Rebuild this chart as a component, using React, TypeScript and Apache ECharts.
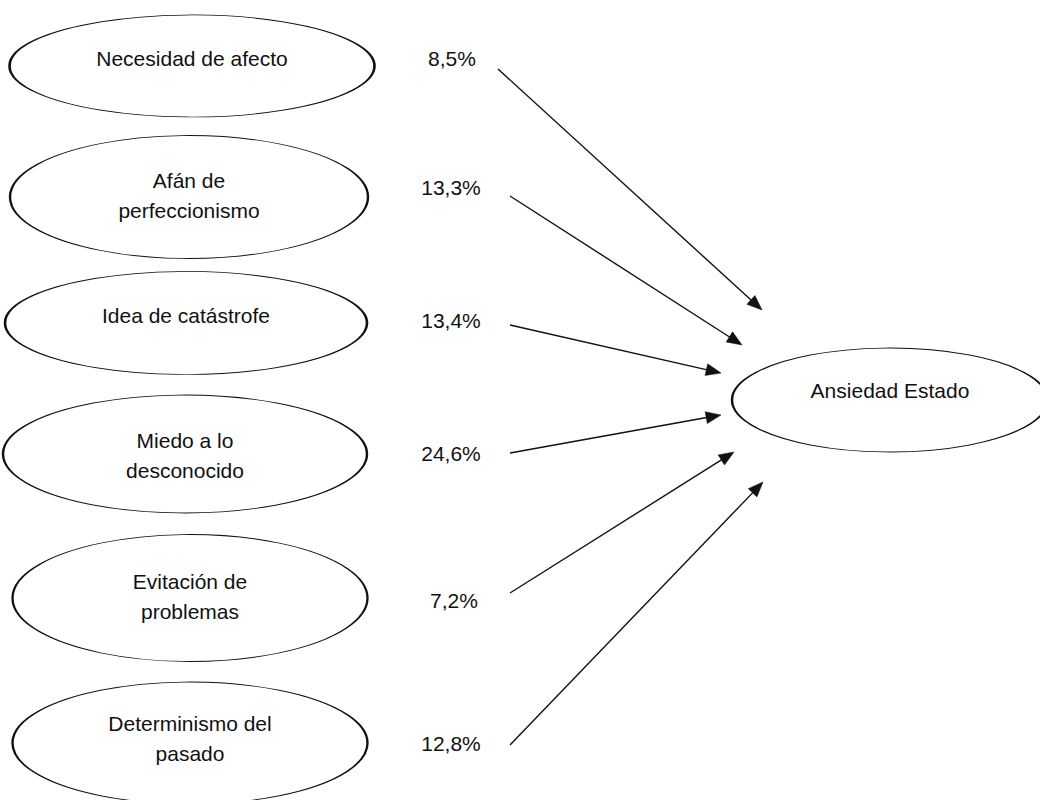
import React, { useEffect, useRef } from "react";
import * as echarts from "echarts";

// ---- data ----
const factors = [
  "Necesidad de afecto",
  "Afán de\nperfeccionismo",
  "Idea de catástrofe",
  "Miedo a lo\ndesconocido",
  "Evitación de\nproblemas",
  "Determinismo del\npasado",
];
const percentages = [8.5, 13.3, 13.4, 24.6, 7.2, 12.8];
const outcome = "Ansiedad Estado";

// ---- layout (diagram coordinates, in a 1040 x 800 space) ----
const factorCenters = [
  [192, 66],
  [189, 197],
  [186, 323],
  [185, 454],
  [190, 598],
  [190, 743],
];
const factorSizes = [
  [365, 102],
  [358, 123],
  [362, 103],
  [364, 118],
  [355, 127],
  [355, 122],
];
const factorLabelOffsets = [-8, -2, -8, 1, -2, -5];
const pctLabelPos = [
  [452, 58],
  [451, 187],
  [451, 320],
  [451, 453],
  [454, 600],
  [451, 743],
];
const arrowStarts = [
  [498, 69],
  [510, 196],
  [510, 325],
  [510, 453],
  [510, 593],
  [510, 745],
];
const arrowEnds = [
  [762, 310],
  [742, 345],
  [721, 373],
  [721, 415],
  [734, 452],
  [763, 482],
];
const outcomeCenter = [890, 400];
const outcomeSize = [316, 104];
const outcomeLabelOffset = -10;

const FONT = "'Liberation Sans', Arial, sans-serif";
const TEXT_COLOR = "#111111";
const LINE_COLOR = "#111111";

export default function App() {
  const ref = useRef<HTMLDivElement>(null);

  useEffect(() => {
    if (!ref.current) return;
    const chart = echarts.init(ref.current, undefined, { renderer: "svg" });

    const ellipseData: any[] = factors.map((name, i) => ({
      name,
      value: factorCenters[i],
      symbolSize: factorSizes[i],
      label: { offset: [0, factorLabelOffsets[i]] },
    }));
    ellipseData.push({
      name: outcome,
      value: outcomeCenter,
      symbolSize: outcomeSize,
      label: { offset: [0, outcomeLabelOffset] },
    });

    const pctData = percentages.map((p, i) => [pctLabelPos[i][0], pctLabelPos[i][1], p]);

    const arrowData = arrowStarts.map((s, i) => [s[0], s[1], arrowEnds[i][0], arrowEnds[i][1]]);

    chart.setOption({
      animation: false,
      backgroundColor: "#ffffff",
      grid: { left: 0, right: 0, top: 0, bottom: 0 },
      xAxis: { type: "value", min: 0, max: 1040, show: false },
      yAxis: { type: "value", min: 0, max: 800, inverse: true, show: false },
      series: [
        {
          type: "scatter",
          silent: true,
          clip: false,
          symbol: "circle",
          data: ellipseData,
          itemStyle: { color: "#ffffff", borderColor: LINE_COLOR, borderWidth: 1.4, opacity: 1 },
          label: {
            show: true,
            position: "inside",
            formatter: (p: any) => p.name,
            fontSize: 21,
            fontFamily: FONT,
            color: TEXT_COLOR,
            lineHeight: 30,
            align: "center",
          },
          emphasis: { disabled: true },
          z: 2,
        },
        {
          type: "scatter",
          silent: true,
          clip: false,
          symbol: "circle",
          symbolSize: 1,
          data: pctData,
          itemStyle: { color: "#ffffff", opacity: 1 },
          label: {
            show: true,
            position: "inside",
            formatter: (p: any) => p.value[2].toFixed(1).replace(".", ",") + "%",
            fontSize: 21,
            fontFamily: FONT,
            color: TEXT_COLOR,
          },
          emphasis: { disabled: true },
          z: 3,
        },
        {
          type: "custom",
          silent: true,
          clip: false,
          data: arrowData,
          encode: { x: [0, 2], y: [1, 3] },
          renderItem: (params: any, api: any) => {
            const p1 = api.coord([api.value(0), api.value(1)]);
            const p2 = api.coord([api.value(2), api.value(3)]);
            const dx = p2[0] - p1[0];
            const dy = p2[1] - p1[1];
            const len = Math.sqrt(dx * dx + dy * dy);
            const ux = dx / len;
            const uy = dy / len;
            const headLen = 15;
            const halfW = 6;
            const bx = p2[0] - ux * headLen;
            const by = p2[1] - uy * headLen;
            return {
              type: "group",
              children: [
                {
                  type: "line",
                  shape: { x1: p1[0], y1: p1[1], x2: bx + ux * 2, y2: by + uy * 2 },
                  style: { stroke: LINE_COLOR, lineWidth: 1.4 },
                },
                {
                  type: "polygon",
                  shape: {
                    points: [
                      [p2[0], p2[1]],
                      [bx - uy * halfW, by + ux * halfW],
                      [bx + uy * halfW, by - ux * halfW],
                    ],
                  },
                  style: { fill: LINE_COLOR, stroke: LINE_COLOR, lineWidth: 0.5 },
                },
              ],
            };
          },
          z: 4,
        },
      ],
    });

    return () => chart.dispose();
  }, []);

  return (
    <div
      ref={ref}
      style={{ position: "fixed", left: 0, top: 0, width: 1040, height: 800, background: "#fff" }}
    />
  );
}
